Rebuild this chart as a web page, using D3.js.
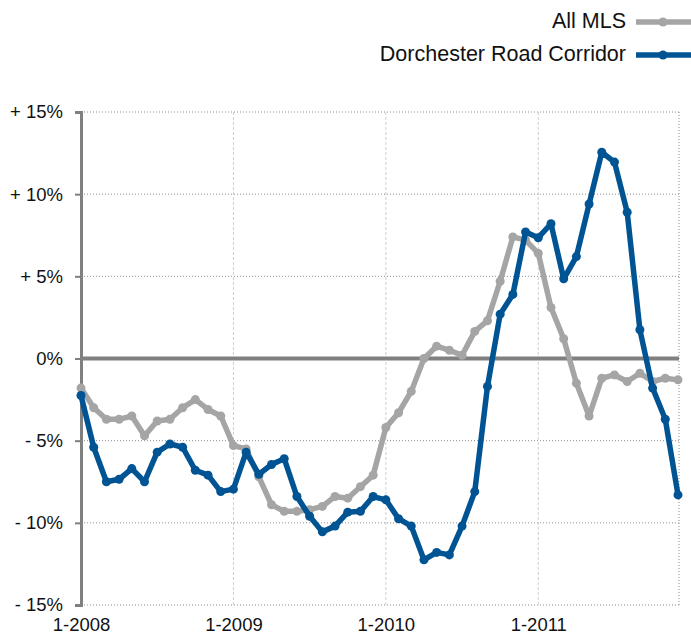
<!DOCTYPE html>
<html>
<head>
<meta charset="utf-8">
<script src="https://cdn.jsdelivr.net/npm/d3@7"></script>
<style>
  body { margin: 0; background: #fff; }
  svg { display: block; font-family: "Liberation Sans", Arial, sans-serif; }
</style>
</head>
<body>
<div class="chart"></div>
<script>
// Monthly change, 1-2008 .. 12-2011
var seriesNames = ["All MLS", "Dorchester Road Corridor"];
var allMls = [-1.8, -3.0, -3.7, -3.7, -3.5, -4.7, -3.8, -3.7, -3.0, -2.5, -3.1, -3.5,
  -5.3, -5.5, -7.2, -8.9, -9.3, -9.3, -9.2, -9.0, -8.4, -8.5, -7.8, -7.1,
  -4.2, -3.3, -2.0, 0.0, 0.75, 0.5, 0.2, 1.65, 2.3, 4.7, 7.4, 7.2,
  6.4, 3.1, 1.2, -1.5, -3.5, -1.2, -1.0, -1.4, -0.9, -1.4, -1.2, -1.3];
var dorchester = [-2.25, -5.4, -7.5, -7.35, -6.7, -7.5, -5.7, -5.2, -5.4, -6.8, -7.1, -8.1,
  -7.95, -5.7, -7.05, -6.45, -6.1, -8.4, -9.6, -10.55, -10.2, -9.35, -9.3, -8.4,
  -8.6, -9.75, -10.2, -12.25, -11.8, -11.95, -10.2, -8.1, -1.7, 2.7, 3.9, 7.7,
  7.35, 8.2, 4.85, 6.2, 9.4, 12.55, 11.95, 8.9, 1.75, -1.8, -3.7, -8.3];
var yTicks = [15, 10, 5, 0, -5, -10, -15];
var yTickLabels = ["+ 15%", "+ 10%", "+ 5%", "0%", "- 5%", "- 10%", "- 15%"];
var xTicks = [0, 12, 24, 36];
var xTickLabels = ["1-2008", "1-2009", "1-2010", "1-2011"];

var svgWidth = 691;
var svgHeight = 636;
var colors = ["#a5a5a5", "#005493"];

var svg = d3.select(".chart")
  .append("svg")
  .attr("width", svgWidth)
  .attr("height", svgHeight);

var xScale = d3.scaleLinear().domain([0, 47]).range([81, 678]);
var yScale = d3.scaleLinear().domain([-15, 15]).range([605, 112]);

// horizontal dotted grid
svg.selectAll(".hgrid").data(yTicks.filter(d => d !== 0)).enter().append("line")
  .attr("x1", 81).attr("x2", 679)
  .attr("y1", d => yScale(d)).attr("y2", d => yScale(d))
  .attr("stroke", "#8c8c8c").attr("stroke-width", 1)
  .attr("stroke-dasharray", "1,2");

// vertical year lines
svg.selectAll(".vgrid").data(xTicks.slice(1)).enter().append("line")
  .attr("x1", d => xScale(d)).attr("x2", d => xScale(d))
  .attr("y1", 112).attr("y2", 605)
  .attr("stroke", "#cfcfcf").attr("stroke-width", 1)
  .attr("stroke-dasharray", "3,2");

// right border
svg.append("line")
  .attr("x1", 679).attr("x2", 679).attr("y1", 112).attr("y2", 605)
  .attr("stroke", "#8c8c8c").attr("stroke-width", 1)
  .attr("stroke-dasharray", "1,2");

// zero line
svg.append("line")
  .attr("x1", 81).attr("x2", 679)
  .attr("y1", yScale(0)).attr("y2", yScale(0))
  .attr("stroke", "#808080").attr("stroke-width", 4);

// y axis
var leftAxis = d3.axisLeft(yScale)
  .tickValues(yTicks)
  .tickFormat((d, i) => yTickLabels[i])
  .tickSize(6)
  .tickPadding(12);

var yAxisG = svg.append("g")
  .attr("transform", "translate(81,0)")
  .call(leftAxis);
yAxisG.select(".domain").attr("stroke", "#808080").attr("stroke-width", 3);
yAxisG.selectAll(".tick line").attr("stroke", "#808080").attr("stroke-width", 2);
yAxisG.selectAll(".tick text")
  .attr("font-size", "18.5px").attr("fill", "#111")
  .attr("font-family", "'Liberation Sans', Arial, sans-serif");

// x labels
var bottomAxis = d3.axisBottom(xScale)
  .tickValues(xTicks)
  .tickFormat((d, i) => xTickLabels[i])
  .tickSize(0)
  .tickPadding(13);
var xAxisG = svg.append("g")
  .attr("transform", "translate(0,605)")
  .call(bottomAxis);
xAxisG.select(".domain").remove();
xAxisG.selectAll(".tick text")
  .attr("font-size", "18.5px").attr("fill", "#111")
  .attr("font-family", "'Liberation Sans', Arial, sans-serif");

// series
var line = d3.line()
  .x((d, i) => xScale(i))
  .y(d => yScale(d));

[allMls, dorchester].forEach(function(values, k) {
  svg.append("path")
    .datum(values)
    .attr("fill", "none")
    .attr("stroke", colors[k])
    .attr("stroke-width", 5.5)
    .attr("stroke-linejoin", "round")
    .attr("d", line);
  svg.selectAll(".dot" + k).data(values).enter().append("circle")
    .attr("cx", (d, i) => xScale(i))
    .attr("cy", d => yScale(d))
    .attr("r", 4.5)
    .attr("fill", colors[k]);
});

// legend
var legend = svg.selectAll(".legend").data(seriesNames).enter().append("g")
  .attr("transform", (d, i) => `translate(0, ${20 + i * 33})`);
legend.append("text")
  .attr("x", 626).attr("y", 0).attr("dy", "0.35em")
  .attr("text-anchor", "end")
  .attr("font-size", "21.5px").attr("fill", "#111")
  .text(d => d);
legend.append("line")
  .attr("x1", 636).attr("x2", 691).attr("y1", 2).attr("y2", 2)
  .attr("stroke", (d, i) => colors[i]).attr("stroke-width", 5.5);
legend.append("circle")
  .attr("cx", 663).attr("cy", 2).attr("r", 4.5)
  .attr("fill", (d, i) => colors[i]);
</script>
</body>
</html>
